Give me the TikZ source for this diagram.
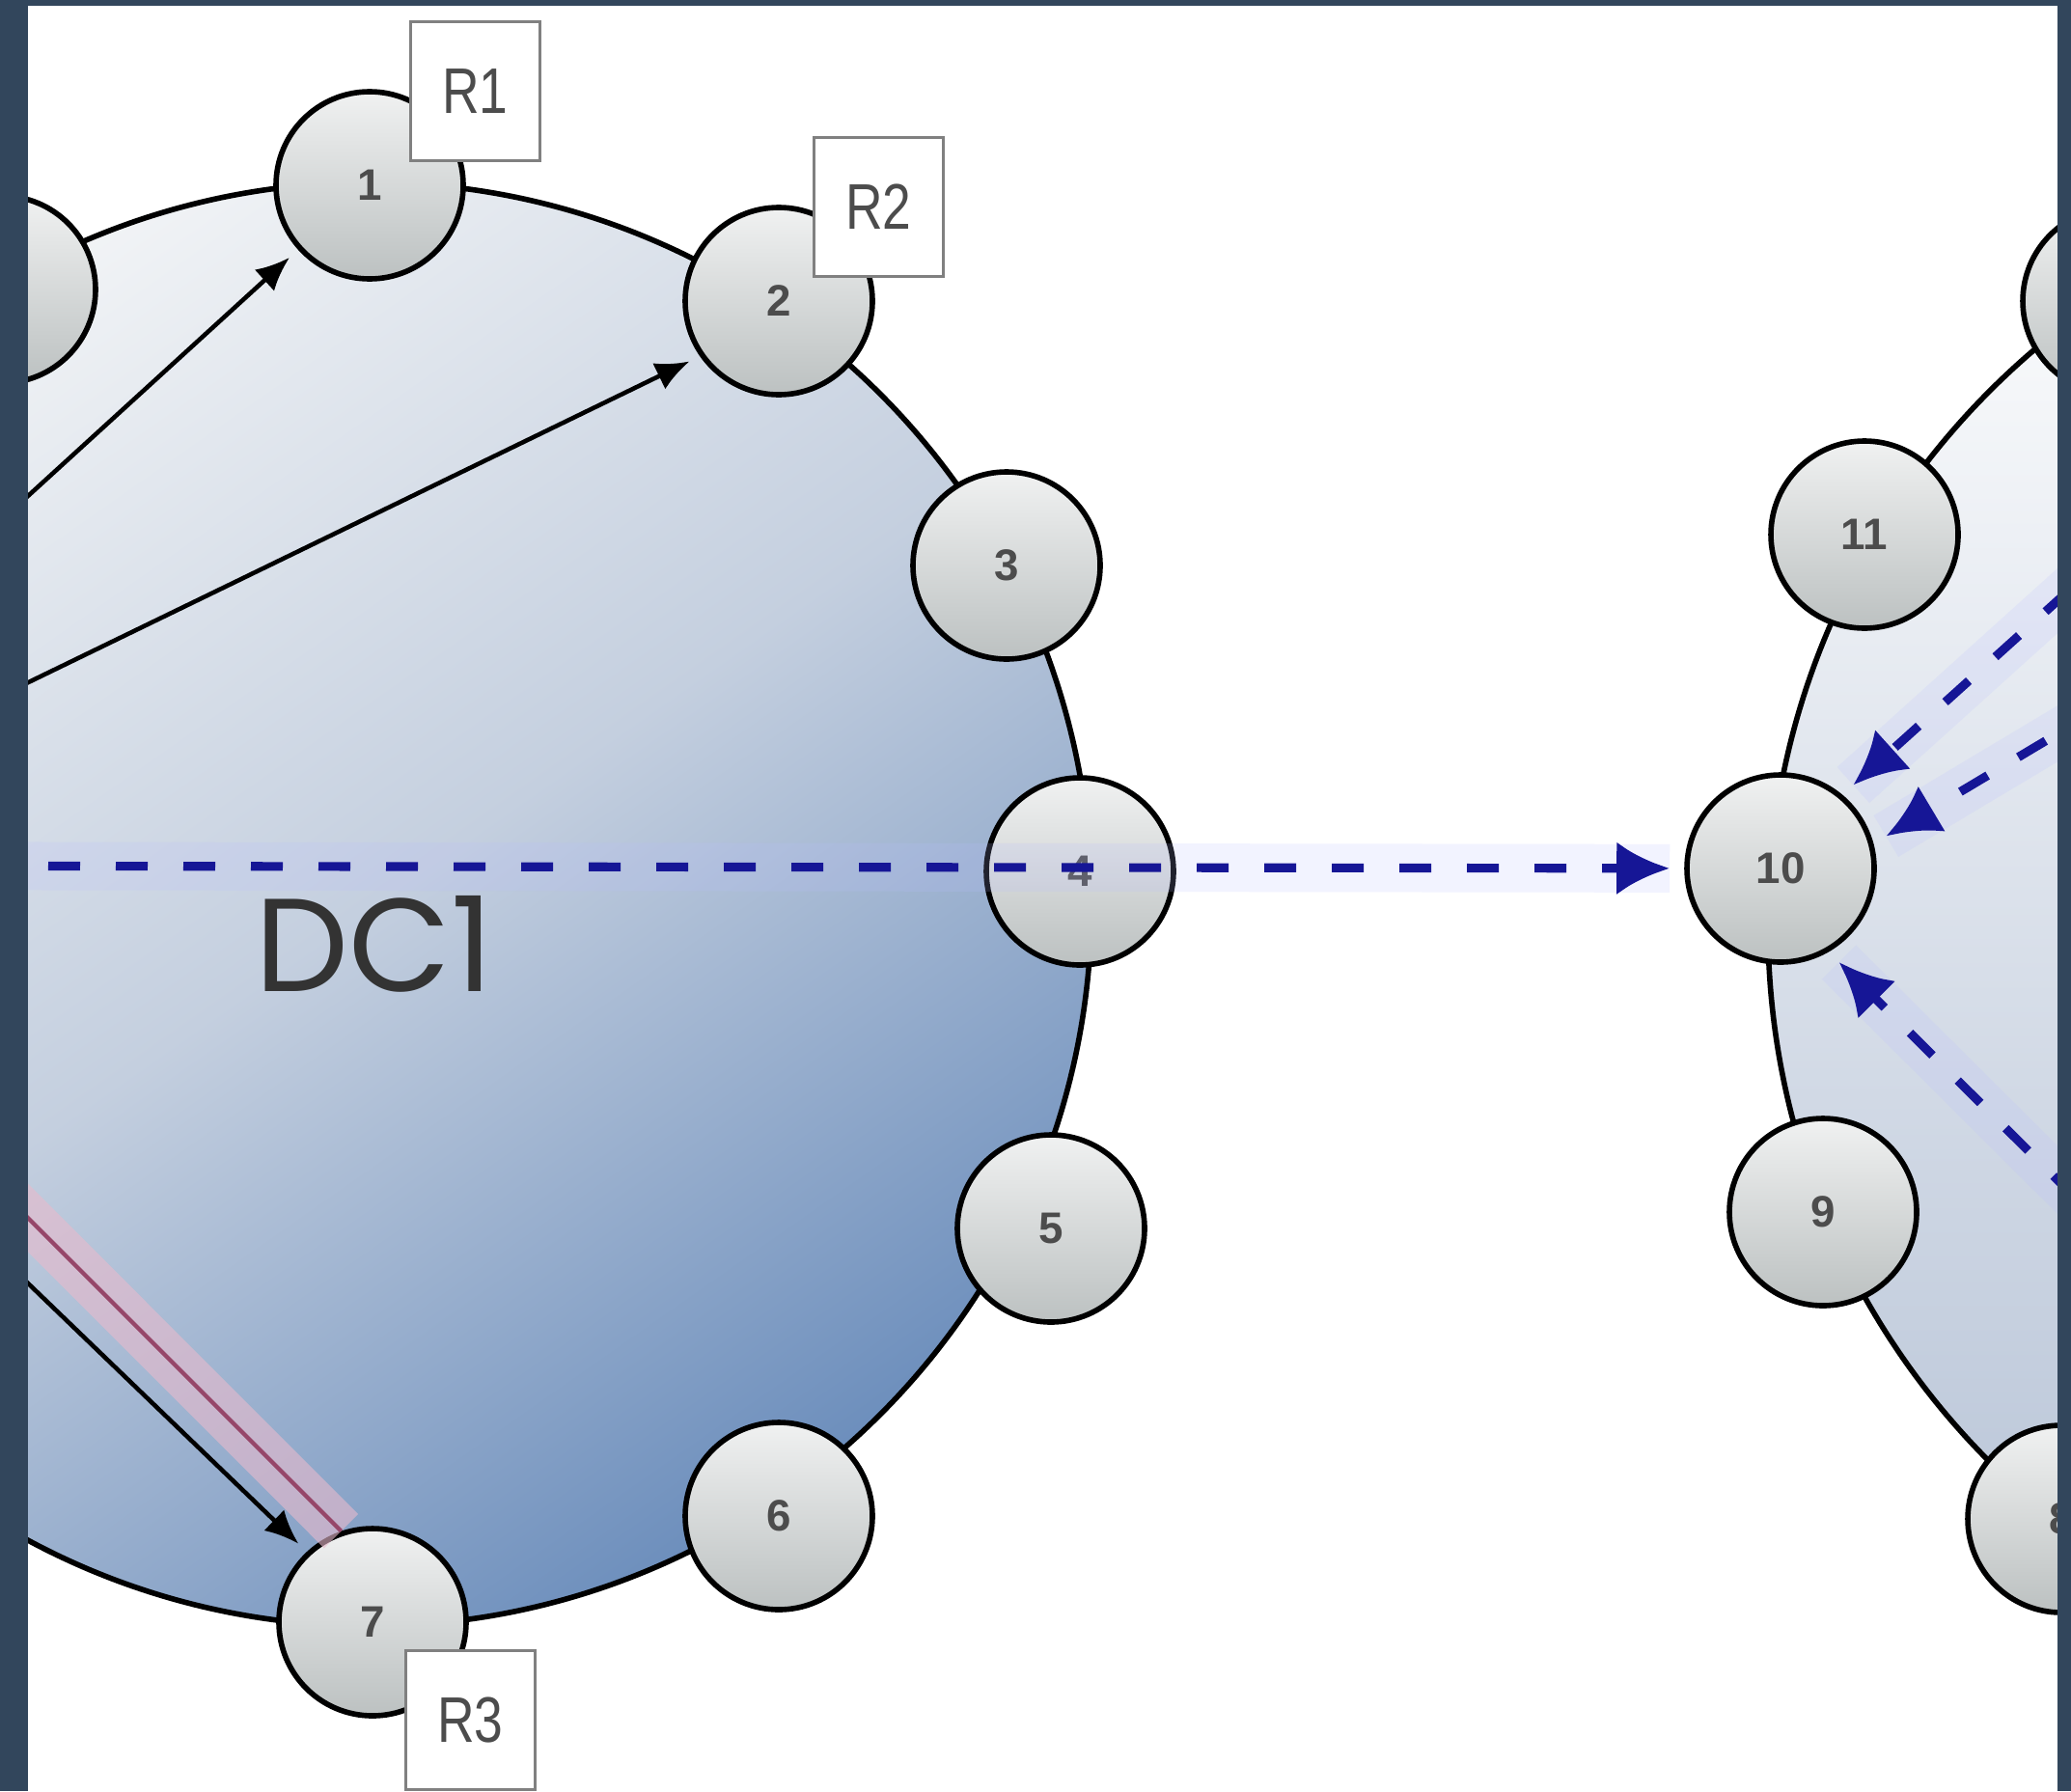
\documentclass[tikz,border=0pt]{standalone}
\usepackage{fontspec}
\usepackage{graphicx}
\usepackage{tikz}
\usetikzlibrary{arrows.meta, positioning}
\setsansfont{Liberation Sans}
\newfontfamily\dcfont{Poppins}
\definecolor{framebg}{RGB}{50,70,92}
\definecolor{ringtop}{RGB}{242,244,246}
\definecolor{ringmid}{RGB}{196,207,223}
\definecolor{ringbot}{RGB}{108,142,188}
\definecolor{ringtwo}{RGB}{180,193,213}
\definecolor{peertop}{RGB}{240,241,241}
\definecolor{peerbot}{RGB}{188,193,193}
\definecolor{lookupblue}{RGB}{22,22,150}
\definecolor{glowblue}{RGB}{185,190,255}
\definecolor{pathpink}{RGB}{232,186,204}
\definecolor{pathred}{RGB}{150,70,105}

\begin{document}
\begin{tikzpicture}[
    peer/.style={draw, circle, line width=1.6pt, minimum size=1.94cm, inner sep=0pt,
        top color=peertop, bottom color=peerbot, text=black!70,
        font=\sffamily\bfseries\fontsize{13}{13}\selectfont},
    rbox/.style={draw=black!50, fill=white, line width=1.1pt, minimum width=1.34cm,
        minimum height=1.44cm, inner sep=0pt, text=black!70,
        font=\sffamily\fontsize{19}{19}\selectfont},
    ring/.style={draw, line width=1.6pt},
    link/.style={line width=1.3pt, -{Latex[length=0.35cm, width=0.3cm]}, shorten >=0.12cm},
    lookup/.style={draw=lookupblue, line width=2.6pt, dash pattern=on 0.33cm off 0.37cm,
        -{Latex[length=0.55cm, width=0.55cm]}, shorten >=0.15cm,
        preaction={draw=glowblue, solid, line width=0.5cm, draw opacity=0.18, arrows=-}}
]
    \useasboundingbox (0,0) rectangle (21.46,-18.56);
    \fill[white] (0,0) rectangle (21.46,-18.56);
    \clip (0,0) rectangle (21.46,-18.56);

    % the two rings
    \coordinate (c1) at (3.83,-9.37);
    \coordinate (c2) at (26.17,-9.60);
    \shade[ring, top color=ringtop, bottom color=ringbot, middle color=ringmid, shading angle=35] (c1) circle (7.48);
    \shade[ring, top color=white, bottom color=ringtwo] (c2) circle (7.85);

    % peers outside the picture
    \coordinate (srcA) at (-3.0,-8.14);
    \coordinate (srcB) at (-3.0,-8.67);
    \coordinate (srcC) at (-3.0,-10.13);
    \coordinate (srcD) at (-3.0,-9.33);
    \coordinate (west) at (-3.0,-8.97);
    \coordinate (eastA) at (23.0,-4.71);
    \coordinate (eastB) at (23.0,-6.60);
    \coordinate (eastC) at (23.0,-13.90);

    \node[peer] (nx) at (0.02,-3.00) {};
    \node[peer] (n1) at (3.83,-1.92) {1};
    \node[peer] (n2) at (8.07,-3.12) {2};
    \node[peer] (n3) at (10.43,-5.86) {3};
    \node[peer] (n4) at (11.19,-9.03) {4};
    \node[peer] (n5) at (10.89,-12.73) {5};
    \node[peer] (n6) at (8.07,-15.71) {6};
    \node[peer] (n7) at (3.86,-16.81) {7};

    \node[peer] (n12) at (21.93,-3.12) {};
    \node[peer] (n11) at (19.32,-5.54) {11};
    \node[peer] (n10) at (18.45,-9.00) {10};
    \node[peer] (n9) at (18.89,-12.56) {9};
    \node[peer] (n8) at (21.36,-15.74) {8};

    % replicas
    \node[rbox, above right=-0.47cm and -0.30cm of n1] (r1) {\scalebox{0.8}[1]{R1}};
    \node[rbox, above right=-0.47cm and -0.36cm of n2] (r2) {\scalebox{0.8}[1]{R2}};
    \node[rbox, below right=-0.43cm and -0.38cm of n7] (r3) {\scalebox{0.8}[1]{R3}};

    % routes inside DC1
    \draw[pathpink, line width=0.5cm, opacity=0.6] (srcD) -- (n7.109);
    \draw[pathred, line width=1.2pt] (srcD) -- (n7.109);
    \draw[link] (srcA) -- (n1.222);
    \draw[link] (srcB) -- (n2.215);
    \draw[link] (srcC) -- (n7.133);

    % lookups towards DC2
    \draw[lookup] (west) -- (n10);
    \draw[lookup] (eastA) -- (n10.50);
    \draw[lookup] (eastB) -- (n10.15);
    \draw[lookup] (eastC) -- (n10.-60);

    \node[text=black!80, font=\dcfont\fontsize{39}{39}\selectfont] (dcname) at (3.88,-9.78) {DC1};

    % frame
    \fill[framebg] (0,0) rectangle (0.29,-18.56);
    \fill[framebg] (0,0) rectangle (21.46,-0.06);
    \fill[framebg] (21.32,0) rectangle (21.46,-18.56);
\end{tikzpicture}
\end{document}
